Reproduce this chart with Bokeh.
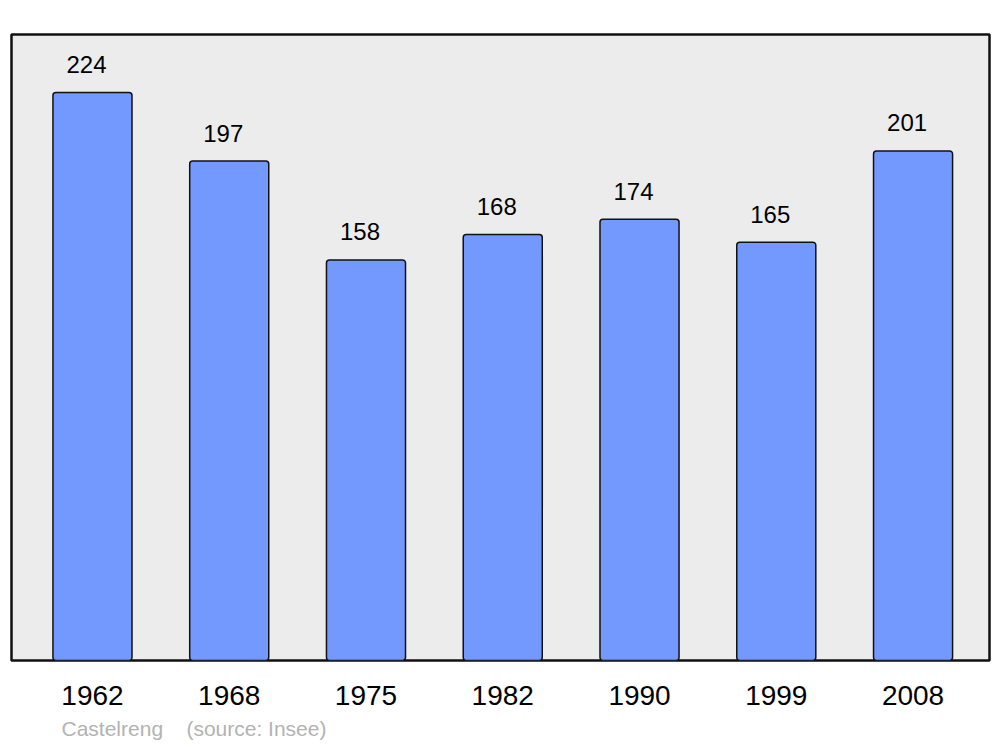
from bokeh.plotting import figure
from bokeh.models import Range1d, ColumnDataSource, Title, FixedTicker
from bokeh.embed import file_html
from bokeh.resources import INLINE
from bokeh.core.properties import value

years = ["1962", "1968", "1975", "1982", "1990", "1999", "2008"]
population = [224, 197, 158, 168, 174, 165, 201]
footnote_place = "Castelreng"
footnote_source = "(source: Insee)"

xs = list(range(len(years)))
src = ColumnDataSource(dict(x=xs, top=population, label=[str(v) for v in population]))

p = figure(width=1000, height=747, output_backend="svg", toolbar_location=None,
           x_range=Range1d(-0.592, 6.559), y_range=Range1d(0, 246.9),
           min_border_left=11, min_border_right=11, min_border_top=34, min_border_bottom=87)
p.background_fill_color = "#ececec"
p.border_fill_color = "white"
p.outline_line_color = "#111111"
p.outline_line_width = 2.5
p.outline_line_alpha = 1
p.grid.visible = False
p.yaxis.visible = False

p.vbar(x="x", top="top", bottom=0, width=0.578, source=src, fill_color="#7399ff",
       line_color="#111111", line_width=1.5, border_radius=3)
p.text(x="x", y="top", text="label", source=src, text_align="center", text_baseline="middle",
       x_offset=-6, y_offset=-28, text_font=value("Liberation Sans"), text_font_size="24px",
       text_color="black")

ax = p.xaxis[0]
ax.ticker = FixedTicker(ticks=xs)
ax.major_label_overrides = {i: y for i, y in zip(xs, years)}
ax.axis_line_color = None
ax.major_tick_line_color = None
ax.minor_tick_line_color = None
ax.major_label_standoff = 19
ax.major_label_text_font = "Liberation Sans"
ax.major_label_text_font_size = "28px"
ax.major_label_text_color = "black"

foot = Title(text=footnote_place + "\u00a0\u00a0\u00a0\u00a0" + footnote_source, align="left",
             offset=50, text_font="Liberation Sans", text_font_size="21px",
             text_font_style="normal", text_color="#b3b3b3", standoff=14)
p.add_layout(foot, "below")

open("out.html", "w").write(file_html(p, INLINE))
